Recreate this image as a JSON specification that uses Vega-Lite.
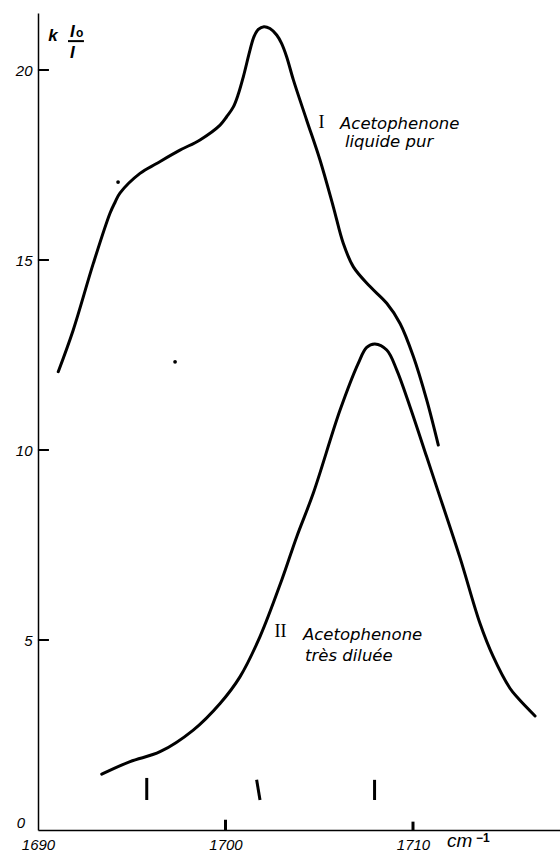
{
  "$schema": "https://vega.github.io/schema/vega-lite/v6.json",
  "autosize": "none",
  "width": 522,
  "height": 817,
  "padding": {"left": 38, "top": 13, "right": 0, "bottom": 21},
  "background": "white",
  "config": {"view": {"stroke": null}},
  "datasets": {
    "curves": [
      {"curve": "I", "wn": 1691.08, "v": 12.06},
      {"curve": "I", "wn": 1691.88, "v": 13.16},
      {"curve": "I", "wn": 1692.95, "v": 14.91},
      {"curve": "I", "wn": 1693.84, "v": 16.23},
      {"curve": "I", "wn": 1694.11, "v": 16.52},
      {"curve": "I", "wn": 1694.37, "v": 16.76},
      {"curve": "I", "wn": 1695.44, "v": 17.28},
      {"curve": "I", "wn": 1696.33, "v": 17.54},
      {"curve": "I", "wn": 1697.57, "v": 17.89},
      {"curve": "I", "wn": 1698.64, "v": 18.16},
      {"curve": "I", "wn": 1699.71, "v": 18.55},
      {"curve": "I", "wn": 1700.06, "v": 18.77},
      {"curve": "I", "wn": 1700.42, "v": 19.03},
      {"curve": "I", "wn": 1700.68, "v": 19.36},
      {"curve": "I", "wn": 1700.95, "v": 19.82},
      {"curve": "I", "wn": 1701.31, "v": 20.53},
      {"curve": "I", "wn": 1701.52, "v": 20.88},
      {"curve": "I", "wn": 1701.75, "v": 21.07},
      {"curve": "I", "wn": 1702.05, "v": 21.14},
      {"curve": "I", "wn": 1702.37, "v": 21.09},
      {"curve": "I", "wn": 1702.73, "v": 20.92},
      {"curve": "I", "wn": 1702.99, "v": 20.70},
      {"curve": "I", "wn": 1703.26, "v": 20.35},
      {"curve": "I", "wn": 1703.62, "v": 19.74},
      {"curve": "I", "wn": 1704.33, "v": 18.68},
      {"curve": "I", "wn": 1705.04, "v": 17.63},
      {"curve": "I", "wn": 1705.75, "v": 16.40},
      {"curve": "I", "wn": 1706.28, "v": 15.44},
      {"curve": "I", "wn": 1706.82, "v": 14.82},
      {"curve": "I", "wn": 1707.71, "v": 14.30},
      {"curve": "I", "wn": 1708.60, "v": 13.86},
      {"curve": "I", "wn": 1709.31, "v": 13.33},
      {"curve": "I", "wn": 1710.02, "v": 12.46},
      {"curve": "I", "wn": 1710.73, "v": 11.32},
      {"curve": "I", "wn": 1711.35, "v": 10.13},
      {"curve": "II", "wn": 1693.40, "v": 1.47},
      {"curve": "II", "wn": 1694.91, "v": 1.80},
      {"curve": "II", "wn": 1696.51, "v": 2.06},
      {"curve": "II", "wn": 1698.28, "v": 2.63},
      {"curve": "II", "wn": 1699.71, "v": 3.33},
      {"curve": "II", "wn": 1700.77, "v": 4.03},
      {"curve": "II", "wn": 1701.84, "v": 5.09},
      {"curve": "II", "wn": 1703.00, "v": 6.58},
      {"curve": "II", "wn": 1703.80, "v": 7.72},
      {"curve": "II", "wn": 1704.68, "v": 8.86},
      {"curve": "II", "wn": 1706.11, "v": 11.05},
      {"curve": "II", "wn": 1707.08, "v": 12.28},
      {"curve": "II", "wn": 1707.53, "v": 12.70},
      {"curve": "II", "wn": 1707.97, "v": 12.79},
      {"curve": "II", "wn": 1708.60, "v": 12.63},
      {"curve": "II", "wn": 1709.13, "v": 12.11},
      {"curve": "II", "wn": 1709.84, "v": 11.14},
      {"curve": "II", "wn": 1710.73, "v": 9.82},
      {"curve": "II", "wn": 1711.26, "v": 9.03},
      {"curve": "II", "wn": 1712.51, "v": 7.16},
      {"curve": "II", "wn": 1713.57, "v": 5.44},
      {"curve": "II", "wn": 1714.28, "v": 4.56},
      {"curve": "II", "wn": 1715.17, "v": 3.73},
      {"curve": "II", "wn": 1715.62, "v": 3.46},
      {"curve": "II", "wn": 1716.51, "v": 3.00}
    ],
    "markers": [
      {"wn": 1695.80, "wn2": 1695.80, "v": 1.37, "v2": 0.79},
      {"wn": 1701.66, "wn2": 1701.84, "v": 1.32, "v2": 0.79},
      {"wn": 1707.95, "wn2": 1707.95, "v": 1.32, "v2": 0.79},
      {"wn": 1700, "wn2": 1700, "v": 0, "v2": 0.27},
      {"wn": 1710, "wn2": 1710, "v": 0, "v2": 0.22}
    ],
    "yticks": [
      {"wn": 1690.29, "v": 5},
      {"wn": 1690.29, "v": 10},
      {"wn": 1690.29, "v": 15},
      {"wn": 1690.29, "v": 20}
    ],
    "zerolabel": [
      {"wn": 1689.31, "v": 0.06, "t": "0"}
    ],
    "fracbar": [
      {"wn": 1691.60, "wn2": 1692.45, "v": 20.76}
    ],
    "romans": [
      {"wn": 1705.12, "v": 18.47, "t": "I"},
      {"wn": 1702.93, "v": 5.08, "t": "II"}
    ],
    "names": [
      {"wn": 1706.11, "v": 18.45, "t": "Acetophenone"},
      {"wn": 1706.37, "v": 17.97, "t": "liquide pur"},
      {"wn": 1704.13, "v": 5.0, "t": "Acetophenone"},
      {"wn": 1704.24, "v": 4.45, "t": "très diluée"}
    ],
    "ylabelbig": [
      {"wn": 1690.55, "v": 20.76, "t": "k"},
      {"wn": 1691.71, "v": 20.87, "t": "I"},
      {"wn": 1691.71, "v": 20.32, "t": "I"}
    ],
    "ylabelsub": [
      {"wn": 1692.03, "v": 20.87, "t": "o"}
    ],
    "unit": [
      {"wn": 1711.81, "v": -0.45, "t": "cm"}
    ],
    "unitexp": [
      {"wn": 1713.36, "v": -0.32, "t": "−1"}
    ],
    "dust": [
      {"wn": 1694.27, "v": 17.05},
      {"wn": 1697.31, "v": 12.32}
    ]
  },
  "encoding": {
    "x": {
      "field": "wn", "type": "quantitative",
      "scale": {"domain": [1690, 1717.84], "nice": false, "zero": false},
      "axis": {
        "title": null, "values": [1690, 1700, 1710], "format": "d", "grid": false,
        "domainColor": "black", "domainWidth": 1.5,
        "ticks": false,
        "labelPadding": 7, "labelFlush": false, "labelOverlap": false, "labelBound": false,
        "labelFont": "Liberation Sans", "labelFontStyle": "italic", "labelFontSize": 15,
        "labelColor": "black", "labelBaseline": "top"
      }
    },
    "y": {
      "field": "v", "type": "quantitative",
      "scale": {"domain": [0, 21.5], "nice": false, "zero": false},
      "axis": {
        "title": null, "values": [5, 10, 15, 20], "format": "d", "grid": false,
        "domainColor": "black", "domainWidth": 1.5,
        "ticks": false,
        "labelPadding": 6, "labelOverlap": false, "labelBound": false,
        "labelFont": "Liberation Sans", "labelFontStyle": "italic", "labelFontSize": 15,
        "labelColor": "black", "labelBaseline": "middle"
      }
    }
  },
  "layer": [
    {
      "data": {"name": "curves"},
      "mark": {"type": "line", "color": "black", "strokeWidth": 3, "interpolate": "catmull-rom", "strokeCap": "round"},
      "encoding": {
        "detail": {"field": "curve", "type": "nominal"}
      }
    },
    {
      "data": {"name": "markers"},
      "mark": {"type": "rule", "color": "black", "strokeWidth": 3},
      "encoding": {
        "x2": {"field": "wn2"},
        "y2": {"field": "v2"}
      }
    },
    {
      "data": {"name": "yticks"},
      "mark": {"type": "tick", "orient": "horizontal", "size": 11, "thickness": 2, "color": "black", "opacity": 1},
      "encoding": {}
    },
    {
      "data": {"name": "fracbar"},
      "mark": {"type": "rule", "color": "black", "strokeWidth": 2},
      "encoding": {
        "x2": {"field": "wn2"}
      }
    },
    {
      "data": {"name": "dust"},
      "mark": {"type": "circle", "color": "black", "size": 14, "opacity": 1},
      "encoding": {}
    },
    {
      "data": {"name": "zerolabel"},
      "mark": {"type": "text", "font": "Liberation Sans", "fontStyle": "italic", "fontSize": 15, "align": "right", "baseline": "alphabetic", "color": "black"},
      "encoding": {"text": {"field": "t"}}
    },
    {
      "data": {"name": "romans"},
      "mark": {"type": "text", "font": "Liberation Serif", "fontSize": 18, "align": "center", "baseline": "alphabetic", "color": "black"},
      "encoding": {"text": {"field": "t"}}
    },
    {
      "data": {"name": "names"},
      "mark": {"type": "text", "font": "DejaVu Sans", "fontStyle": "italic", "fontSize": 16.5, "align": "left", "baseline": "alphabetic", "color": "black"},
      "encoding": {"text": {"field": "t"}}
    },
    {
      "data": {"name": "ylabelbig"},
      "mark": {"type": "text", "font": "Liberation Sans", "fontStyle": "italic", "fontWeight": "bold", "fontSize": 17, "align": "left", "baseline": "alphabetic", "color": "black"},
      "encoding": {"text": {"field": "t"}}
    },
    {
      "data": {"name": "ylabelsub"},
      "mark": {"type": "text", "font": "Liberation Sans", "fontWeight": "bold", "fontSize": 12, "align": "left", "baseline": "alphabetic", "color": "black"},
      "encoding": {"text": {"field": "t"}}
    },
    {
      "data": {"name": "unit"},
      "mark": {"type": "text", "font": "Liberation Sans", "fontStyle": "italic", "fontSize": 19, "align": "left", "baseline": "alphabetic", "color": "black"},
      "encoding": {"text": {"field": "t"}}
    },
    {
      "data": {"name": "unitexp"},
      "mark": {"type": "text", "font": "Liberation Sans", "fontWeight": "bold", "fontSize": 12, "align": "left", "baseline": "alphabetic", "color": "black"},
      "encoding": {"text": {"field": "t"}}
    }
  ]
}
